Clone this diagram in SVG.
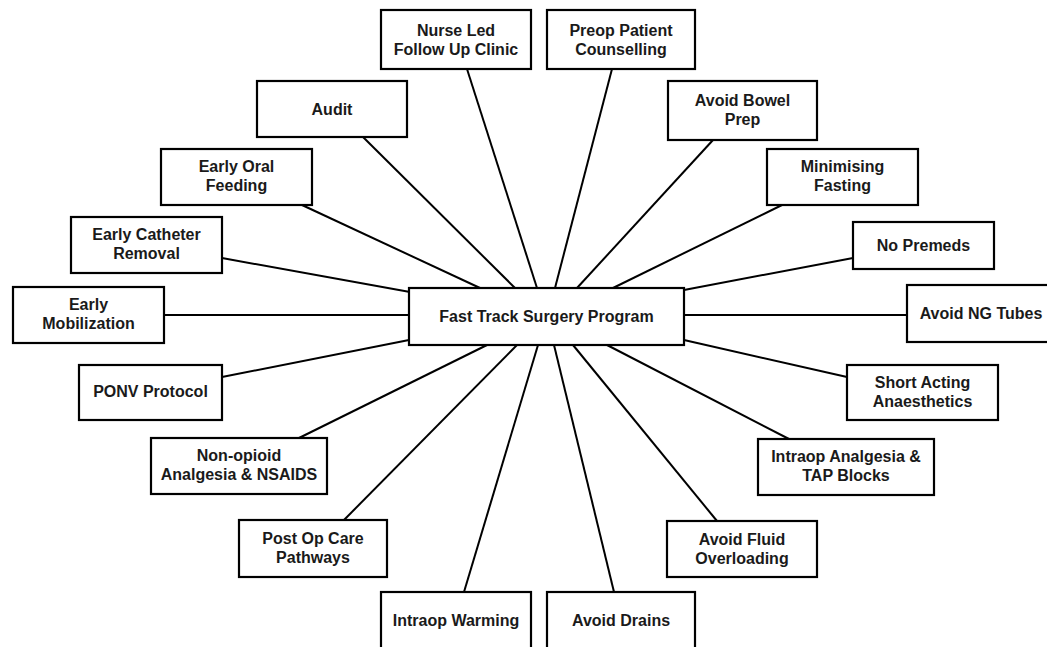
<svg xmlns="http://www.w3.org/2000/svg" width="1047" height="647" viewBox="0 0 1047 647">
<style>
.box{fill:#fff;stroke:#000;stroke-width:2.2}
.lbl{font-family:"Liberation Sans",Arial,sans-serif;font-weight:bold;font-size:16px;fill:#1a1a1a;text-anchor:middle}
.conn line{stroke:#000;stroke-width:2}
</style>
<rect width="1047" height="647" fill="#fff"/>
<g class="conn" id="connectors">
<line x1="467" y1="69" x2="537" y2="288"/>
<line x1="612" y1="69" x2="555" y2="288"/>
<line x1="363" y1="137" x2="515" y2="288"/>
<line x1="713" y1="140" x2="577" y2="288"/>
<line x1="302" y1="205" x2="480" y2="288"/>
<line x1="782" y1="205" x2="613" y2="288"/>
<line x1="222" y1="258" x2="410" y2="292"/>
<line x1="853" y1="258" x2="684" y2="290"/>
<line x1="164" y1="315" x2="409" y2="315"/>
<line x1="684" y1="315" x2="907" y2="315"/>
<line x1="222" y1="377" x2="409" y2="340"/>
<line x1="847" y1="377" x2="684" y2="340"/>
<line x1="299" y1="438" x2="487" y2="345"/>
<line x1="789" y1="439" x2="607" y2="345"/>
<line x1="344" y1="520" x2="517" y2="345"/>
<line x1="717" y1="521" x2="573" y2="345"/>
<line x1="464" y1="592" x2="538" y2="345"/>
<line x1="614" y1="592" x2="554" y2="345"/>
</g>
<g id="center"><rect class="box" x="409" y="288" width="275" height="57"/><text class="lbl" x="546.5" y="322">Fast Track Surgery Program</text></g>
<g id="nurse"><rect class="box" x="381" y="10" width="150" height="59"/><text class="lbl" x="456" y="36">Nurse Led</text><text class="lbl" x="456" y="55">Follow Up Clinic</text></g>
<g id="preop"><rect class="box" x="547" y="10" width="148" height="59"/><text class="lbl" x="621" y="36">Preop Patient</text><text class="lbl" x="621" y="55">Counselling</text></g>
<g id="audit"><rect class="box" x="257" y="81" width="150" height="56"/><text class="lbl" x="332" y="115">Audit</text></g>
<g id="bowel"><rect class="box" x="668" y="81" width="149" height="59"/><text class="lbl" x="742.5" y="106">Avoid Bowel</text><text class="lbl" x="742.5" y="125">Prep</text></g>
<g id="oral"><rect class="box" x="161" y="149" width="151" height="56"/><text class="lbl" x="236.5" y="172">Early Oral</text><text class="lbl" x="236.5" y="191">Feeding</text></g>
<g id="fasting"><rect class="box" x="767" y="149" width="151" height="56"/><text class="lbl" x="842.5" y="172">Minimising</text><text class="lbl" x="842.5" y="191">Fasting</text></g>
<g id="catheter"><rect class="box" x="71" y="217" width="151" height="56"/><text class="lbl" x="146.5" y="240">Early Catheter</text><text class="lbl" x="146.5" y="259">Removal</text></g>
<g id="premeds"><rect class="box" x="853" y="222" width="141" height="47"/><text class="lbl" x="923.5" y="251">No Premeds</text></g>
<g id="mobil"><rect class="box" x="13" y="287" width="151" height="56"/><text class="lbl" x="88.5" y="310">Early</text><text class="lbl" x="88.5" y="329">Mobilization</text></g>
<g id="ng"><rect class="box" x="907" y="285" width="148" height="57"/><text class="lbl" x="981" y="319">Avoid NG Tubes</text></g>
<g id="ponv"><rect class="box" x="79" y="365" width="143" height="55"/><text class="lbl" x="150.5" y="397">PONV Protocol</text></g>
<g id="short"><rect class="box" x="847" y="365" width="151" height="55"/><text class="lbl" x="922.5" y="388">Short Acting</text><text class="lbl" x="922.5" y="407">Anaesthetics</text></g>
<g id="nonopioid"><rect class="box" x="151" y="438" width="176" height="56"/><text class="lbl" x="239" y="461">Non-opioid</text><text class="lbl" x="239" y="480">Analgesia &amp; NSAIDS</text></g>
<g id="tap"><rect class="box" x="758" y="439" width="176" height="56"/><text class="lbl" x="846" y="462">Intraop Analgesia &amp;</text><text class="lbl" x="846" y="481">TAP Blocks</text></g>
<g id="postop"><rect class="box" x="239" y="520" width="148" height="57"/><text class="lbl" x="313" y="544">Post Op Care</text><text class="lbl" x="313" y="563">Pathways</text></g>
<g id="fluid"><rect class="box" x="667" y="521" width="150" height="56"/><text class="lbl" x="742" y="545">Avoid Fluid</text><text class="lbl" x="742" y="564">Overloading</text></g>
<g id="warming"><rect class="box" x="381" y="592" width="150" height="60"/><text class="lbl" x="456" y="626">Intraop Warming</text></g>
<g id="drains"><rect class="box" x="547" y="592" width="148" height="60"/><text class="lbl" x="621" y="626">Avoid Drains</text></g>
</svg>
